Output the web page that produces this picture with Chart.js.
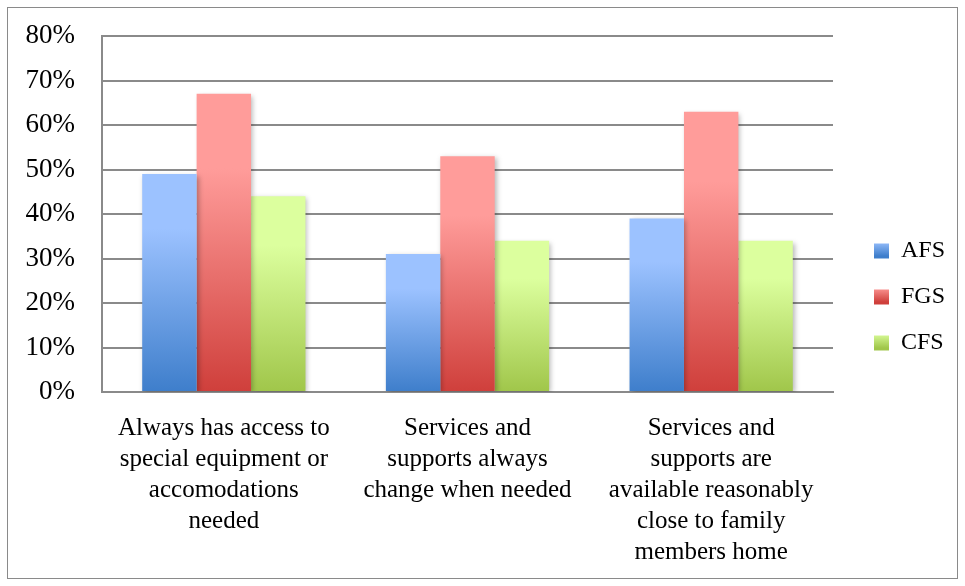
<!DOCTYPE html>
<html>
<head>
<meta charset="utf-8">
<script src="https://cdn.jsdelivr.net/npm/chart.js@4.4.1/dist/chart.umd.min.js"></script>
<style>
  html, body { margin: 0; padding: 0; background: #fff; }
  #wrap { position: relative; width: 965px; height: 586px; }
  #frame { position: absolute; left: 7px; top: 7px; width: 949px; height: 570px; border: 1.5px solid #8a8a8a; }
  #chart { position: absolute; left: 0; top: 0; }
</style>
</head>
<body>
<div id="wrap">
  <div id="frame"></div>
  <canvas id="chart" width="965" height="586"></canvas>
</div>
<script>
// categorías del eje x (cada una en varias líneas)
const categories = [
    ["Always has access to", "special equipment or", "accomodations", "needed"],
    ["Services and", "supports always", "change when needed"],
    ["Services and", "supports are", "available reasonably", "close to family", "members home"]
];
const seriesNames = ["AFS", "FGS", "CFS"];
const afs = [49, 31, 39];
const fgs = [67, 53, 63];
const cfs = [44, 34, 34];
const yTicks = [0, 10, 20, 30, 40, 50, 60, 70, 80];

// colores: [arriba, abajo] para el degradado de cada barra
const colors = {
    AFS: ["#9cc2ff", "#3e7ecb"],
    FGS: ["#ff9c9a", "#cf3f3b"],
    CFS: ["#dcff9e", "#a0c64a"]
};

const FONT = "'Liberation Serif', 'Times New Roman', serif";
const LEGEND_W = 132;   // ancho reservado a la leyenda
const LEGEND_DX = 19;   // corrimiento de la leyenda
const LEGEND_DY = -14;

function barGradient(top, bottom) {
    return function (context) {
        const chart = context.chart;
        const area = chart.chartArea;
        if (!area) return bottom;
        const yScale = chart.scales.y;
        const v = context.parsed ? context.parsed.y : null;
        const y0 = yScale.getPixelForValue(0);
        const y1 = v == null ? area.top : yScale.getPixelForValue(v);
        const g = chart.ctx.createLinearGradient(0, y1, 0, y0);
        g.addColorStop(0, top);
        g.addColorStop(0.25, top);
        g.addColorStop(1, bottom);
        return g;
    };
}

// degradado para el cuadrito de la leyenda
function legendGradient(chart, top, bottom, y) {
    const g = chart.ctx.createLinearGradient(0, y, 0, y + 15);
    g.addColorStop(0, top);
    g.addColorStop(1, bottom);
    return g;
}

// sombra suave detrás de las barras
const barShadow = {
    id: "barShadow",
    beforeDatasetDraw(chart) {
        const ctx = chart.ctx;
        ctx.save();
        ctx.shadowColor = "rgba(0,0,0,0.28)";
        ctx.shadowBlur = 5;
        ctx.shadowOffsetX = 2;
        ctx.shadowOffsetY = 2;
    },
    afterDatasetDraw(chart) {
        chart.ctx.restore();
    }
};

// fija el ancho de la leyenda y la mueve un poco
const legendPlace = {
    id: "legendPlace",
    beforeLayout(chart) {
        const lg = chart.legend;
        if (lg && !lg._fixed) {
            const fit = lg.fit.bind(lg);
            lg.fit = function () { fit(); this.width = LEGEND_W; };
            lg._fixed = true;
        }
    },
    afterLayout(chart) {
        const lg = chart.legend;
        if (!lg) return;
        lg.left += LEGEND_DX; lg.right += LEGEND_DX;
        lg.top += LEGEND_DY; lg.bottom += LEGEND_DY;
    }
};

const seriesData = [afs, fgs, cfs];

const datasets = seriesNames.map((name, i) => ({
    label: name,
    data: seriesData[i],
    backgroundColor: barGradient(colors[name][0], colors[name][1]),
    borderWidth: 0,
    categoryPercentage: 0.67,
    barPercentage: 1.0
}));

const ctx = document.getElementById("chart").getContext("2d");
new Chart(ctx, {
    type: "bar",
    data: { labels: categories, datasets },
    plugins: [barShadow, legendPlace],
    options: {
        responsive: false,
        animation: false,
        devicePixelRatio: 1,
        layout: { padding: { top: 36, right: 0, left: 0, bottom: 0 } },
        plugins: {
            tooltip: { enabled: false },
            legend: {
                position: "right",
                labels: {
                    font: { family: FONT, size: 24 },
                    color: "#000",
                    boxWidth: 15,
                    boxHeight: 15,
                    padding: 22,
                    generateLabels(chart) {
                        return seriesNames.map((name, i) => ({
                            text: name,
                            fillStyle: legendGradient(chart, colors[name][0], colors[name][1], 241 + i * 46),
                            strokeStyle: "rgba(0,0,0,0)",
                            lineWidth: 0,
                            datasetIndex: i,
                            hidden: false
                        }));
                    }
                }
            }
        },
        scales: {
            x: {
                grid: { display: false, drawTicks: false },
                border: { display: true, color: "#8a8a8a", width: 2 },
                ticks: {
                    font: { family: FONT, size: 25, lineHeight: 1.24 },
                    color: "#000",
                    padding: 21,
                    maxRotation: 0,
                    autoSkip: false
                },
                afterFit(axis) { axis.height = 194; }
            },
            y: {
                min: 0,
                max: 80,
                afterBuildTicks(axis) { axis.ticks = yTicks.map(v => ({ value: v })); },
                // marcas invisibles: solo separan las etiquetas del eje
                grid: { color: "#8a8a8a", lineWidth: 2, drawTicks: true, tickLength: 25, tickColor: "rgba(0,0,0,0)" },
                border: { display: true, color: "#8a8a8a", width: 2 },
                ticks: {
                    font: { family: FONT, size: 27 },
                    color: "#000",
                    padding: 2,
                    callback: v => v + "%"
                },
                afterFit(axis) { axis.width = 102; }
            }
        }
    }
});
</script>
</body>
</html>
